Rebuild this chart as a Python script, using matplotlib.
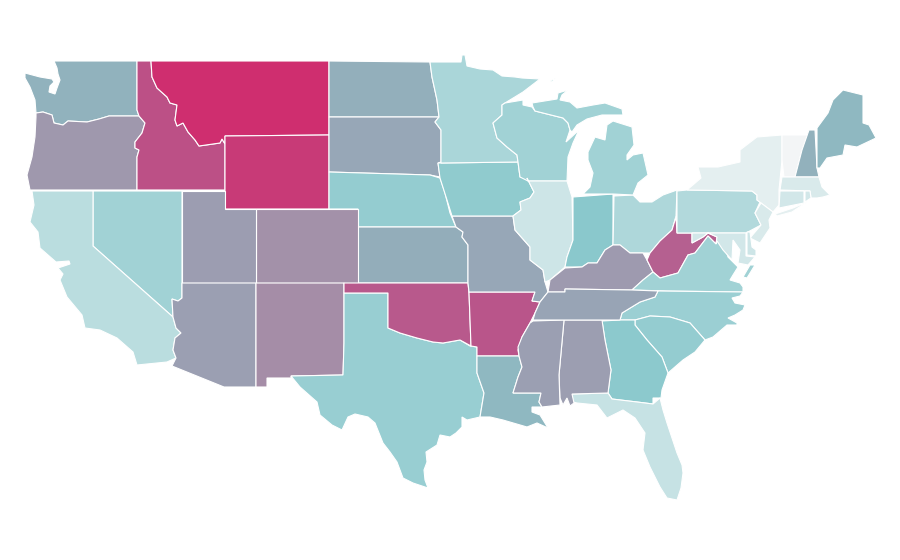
# choropleth of the lower 48 states, outlines are traced in map units of the picture

import matplotlib
matplotlib.use("Agg")
import matplotlib.pyplot as plt
from matplotlib.colors import LinearSegmentedColormap

WA = [(54,61),(137,61),(137,110),(139,116),(109,116),(99,119),(87,122),(68,121),(63,125),(54,123),(52,115),(43,112),(36,113),(35,100),(30,87),(25,78),(25,73),(40,77),(52,79),(54,82),(50,86),(49,92),(55,94),(57,88),(60,80),(58,74),(57,68)]
OR = [(36,113),(43,112),(52,115),(54,123),(63,125),(68,121),(87,122),(99,119),(109,116),(139,116),(145,123),(142,133),(135,142),(135,148),(139,150),(137,157),(137,190),(30,190),(27,175),(32,157),(35,137),(36,117)]
ID = [(137,61),(151,61),(152,77),(157,88),(167,97),(170,103),(177,105),(175,120),(177,126),(183,123),(188,132),(195,140),(199,146),(220,143),(222,139),(225,144),(225,190),(137,190),(137,157),(139,150),(135,148),(135,142),(142,133),(145,123),(139,116),(137,110)]
MT = [(151,61),(329,61),(329,135),(225,136),(225,144),(222,139),(220,143),(199,146),(195,140),(188,132),(183,123),(177,126),(175,120),(177,105),(170,103),(167,97),(157,88),(152,77)]
WY = [(225,136),(329,135),(329,209),(225,209)]
ND = [(329,61),(430,62),(432,77),(437,100),(439,117),(329,117)]
SD = [(329,117),(439,117),(435,122),(441,130),(441,162),(438,163),(440,177),(430,175),(329,172)]
NE = [(329,172),(430,175),(440,178),(445,193),(450,213),(456,227),(358,227),(358,209),(329,209)]
KS = [(358,227),(456,227),(463,232),(462,237),(468,245),(468,283),(358,283)]
CO = [(256,209),(358,209),(358,283),(256,283)]
UT = [(182,191),(225,191),(225,209),(256,209),(256,283),(182,283)]
NV = [(93,191),(182,191),(182,298),(178,301),(172,299),(173,317),(93,246)]
CA = [(32,191),(93,191),(93,246),(173,317),(176,328),(181,333),(175,338),(173,350),(176,358),(167,362),(137,365),(133,352),(117,338),(100,330),(85,328),(82,315),(67,297),(60,280),(63,274),(58,268),(70,264),(69,261),(56,262),(40,248),(38,232),(30,222),(34,205)]
AZ = [(182,283),(256,283),(256,387),(224,387),(172,366),(176,358),(173,350),(175,338),(181,333),(176,328),(173,317),(172,299),(178,301),(182,298)]
NM = [(256,283),(344,283),(344,343),(343,375),(291,376),(291,378),(267,378),(267,387),(256,387)]
TX = [(344,293),(388,293),(388,328),(400,333),(417,338),(433,342),(443,343),(460,340),(470,346),(477,347),(477,373),(484,393),(480,417),(467,420),(462,417),(462,427),(456,433),(450,437),(440,435),(437,445),(426,452),(427,462),(424,470),(425,480),(428,488),(413,483),(403,478),(397,462),(390,452),(383,443),(375,423),(368,417),(355,414),(348,417),(342,430),(332,425),(320,415),(317,402),(300,387),(291,376),(343,375),(344,343)]
OK = [(344,283),(468,283),(469,293),(471,346),(460,340),(443,343),(433,342),(417,338),(400,333),(388,328),(388,293),(344,293)]
AR = [(469,292),(535,292),(532,301),(540,302),(535,313),(530,323),(522,337),(518,350),(519,356),(477,356),(477,347),(471,346)]
LA = [(477,356),(519,356),(522,367),(518,377),(513,393),(541,393),(539,402),(542,407),(532,407),(532,412),(540,415),(548,428),(537,423),(527,427),(503,420),(490,417),(480,417),(484,393),(477,373)]
MO = [(452,216),(513,216),(515,230),(530,247),(530,260),(543,270),(545,282),(548,292),(540,302),(532,301),(535,292),(469,292),(468,283),(468,245),(462,237),(463,232),(456,227)]
IA = [(441,163),(518,162),(520,177),(527,178),(534,192),(530,198),(520,202),(521,210),(513,216),(452,216),(447,200),(440,178),(438,163)]
MN = [(430,62),(461,62),(462,55),(465,55),(467,66),(480,69),(493,70),(502,76),(515,77),(522,78),(540,79),(523,92),(505,103),(502,105),(502,115),(493,123),(497,138),(507,147),(517,155),(518,162),(441,163),(441,130),(435,122),(439,117),(437,100),(432,77)]
WI = [(502,105),(505,103),(523,100),(523,105),(532,107),(535,111),(563,118),(568,123),(570,130),(566,142),(579,130),(573,143),(568,157),(567,181),(528,181),(520,177),(518,162),(517,155),(507,147),(497,138),(493,123),(502,115)]
IL = [(528,181),(567,181),(572,197),(573,240),(567,257),(565,267),(550,280),(545,282),(543,270),(530,260),(530,247),(515,230),(513,216),(521,210),(520,202),(530,198),(534,192),(527,178)]
IN = [(573,197),(613,194),(613,245),(605,250),(597,263),(588,263),(582,267),(565,267),(567,257),(573,240)]
OH = [(614,196),(633,195),(640,202),(652,202),(663,195),(677,190),(676,216),(672,230),(660,241),(650,253),(643,253),(630,253),(620,245),(613,245)]
KY = [(565,268),(582,267),(588,263),(597,263),(605,250),(613,245),(620,245),(630,253),(643,253),(647,260),(653,272),(643,280),(632,290),(565,289),(565,292),(548,292),(550,280)]
WV = [(647,260),(650,253),(660,241),(672,230),(676,217),(677,233),(692,233),(692,243),(703,237),(708,233),(717,237),(716,244),(708,236),(695,253),(688,255),(678,273),(660,278),(653,272)]
VA = [(708,236),(716,244),(717,241),(725,247),(728,257),(738,267),(733,275),(730,280),(740,283),(743,287),(743,292),(667,291),(632,290),(643,280),(653,272),(660,278),(678,273),(688,255),(695,253)]
VA_SHORE = [(750,265),(755,265),(747,278),(743,277)]
NC = [(658,291),(743,292),(740,296),(732,298),(735,303),(745,305),(743,310),(735,315),(728,318),(737,323),(737,325),(727,325),(713,337),(705,340),(690,323),(670,317),(650,316),(635,320),(620,320),(622,313),(640,302),(655,297)]
SC = [(635,325),(635,320),(650,316),(670,317),(690,323),(705,340),(695,352),(683,360),(668,373),(662,357),(647,340)]
GA = [(602,321),(620,320),(635,320),(635,325),(647,340),(662,357),(668,373),(662,390),(661,398),(653,398),(653,404),(637,402),(612,399),(608,393),(611,370),(605,340)]
FL = [(572,394),(608,393),(612,399),(637,402),(653,404),(660,398),(663,410),(667,423),(672,438),(677,453),(682,465),(683,473),(681,488),(677,500),(667,498),(660,487),(650,467),(643,450),(645,433),(635,418),(623,410),(607,418),(597,405),(577,403),(573,402)]
AL = [(564,320),(602,320),(605,340),(611,370),(608,393),(572,394),(574,403),(570,406),(567,398),(563,405),(560,398),(559,375)]
MS = [(533,321),(564,320),(559,375),(560,405),(542,407),(539,402),(541,393),(513,393),(518,377),(522,367),(519,356),(518,347),(522,337),(530,323)]
TN = [(548,292),(565,292),(565,289),(632,290),(658,291),(655,297),(640,302),(622,313),(620,320),(533,320),(535,313),(540,302)]
PA = [(677,191),(687,190),(752,191),(757,195),(757,200),(760,202),(755,213),(761,225),(746,233),(677,233)]
NY = [(687,190),(701,178),(698,167),(718,167),(740,162),(740,150),(757,137),(782,135),(782,160),(779,190),(779,205),(773,212),(761,203),(757,200),(757,195),(752,191)]
NY_LONG = [(775,214),(793,208),(807,202),(792,212),(777,216)]
VT = [(782,135),(808,135),(802,150),(795,177),(784,177),(782,160)]
NH = [(809,130),(815,130),(817,168),(819,177),(795,177),(802,150)]
ME = [(817,128),(828,113),(833,100),(843,90),(863,95),(863,123),(869,125),(876,138),(857,147),(845,145),(843,155),(827,158),(820,168),(817,168)]
MA = [(782,177),(819,177),(822,187),(830,195),(823,197),(817,198),(811,198),(810,191),(780,190)]
CT = [(780,191),(804,191),(804,203),(779,208)]
RI = [(805,191),(810,191),(811,198),(805,202)]
NJ = [(761,203),(773,212),(769,220),(770,228),(760,243),(750,238),(761,225),(755,213)]
DE = [(747,232),(750,232),(752,247),(756,250),(756,256),(747,255)]
MD = [(692,233),(746,233),(746,256),(755,257),(748,265),(738,263),(740,250),(733,240),(732,260),(723,250),(717,241),(716,244),(717,237),(708,233),(703,237),(692,243)]
MI_LOWER = [(583,194),(613,194),(633,195),(638,183),(648,175),(643,153),(633,155),(627,160),(627,155),(634,145),(632,127),(613,121),(607,125),(605,140),(595,137),(588,152),(588,160),(593,173),(590,187)]
MI_UPPER = [(533,107),(532,103),(557,99),(558,93),(568,90),(562,95),(560,100),(570,102),(577,108),(593,105),(605,103),(622,109),(623,115),(610,115),(602,115),(587,119),(577,125),(572,132),(570,130),(568,123),(563,118),(535,111)]
MI_ISLE = [(550,81),(556,78),(552,82)]

state_shapes = [WA, OR, ID, MT, WY, ND, SD, NE, KS, CO, UT, NV, CA, AZ, NM, TX, OK, AR, LA, MO, IA, MN, WI, IL, IN, OH, KY, WV, VA, VA_SHORE, NC, SC, GA, FL, AL, MS, TN, PA, NY, NY_LONG, VT, NH, ME, MA, CT, RI, NJ, DE, MD, MI_LOWER, MI_UPPER, MI_ISLE]
state_values = [.55, .70, .87, 1.0, .95, .57, .61, .425, .575, .74, .67, .37, .255, .66, .75, .41, .84, .85, .53, .61, .445, .325, .37, .17, .47, .31, .69, .83, .37, .37, .395, .425, .46, .20, .665, .66, .63, .29, .07, .07, 0.0, .555, .53, .12, .15, .15, .12, .17, .15, .37, .37, .37]

color_stops = [0.0, .47, .55, .66, .75, .85, 1.0]
color_hex = ["#f3f5f6", "#8ac8cc", "#91b2bd", "#9b9fb2", "#a48fa8", "#b9558a", "#cf2e6f"]

cmap = LinearSegmentedColormap.from_list("rate", list(zip(color_stops, color_hex)))

fig = plt.figure(figsize=(9, 5.6), dpi=100)
ax = fig.add_axes([0, 0, 1, 1])

for shape, value in zip(state_shapes, state_values):
    xs = [p[0] for p in shape]
    ys = [p[1] for p in shape]
    ax.fill(xs, ys, facecolor=cmap(value), edgecolor="white", linewidth=0.8)

ax.set_xlim(0, 900)
ax.set_ylim(560, 0)
ax.axis("off")

fig.savefig("out.png", dpi=100)
